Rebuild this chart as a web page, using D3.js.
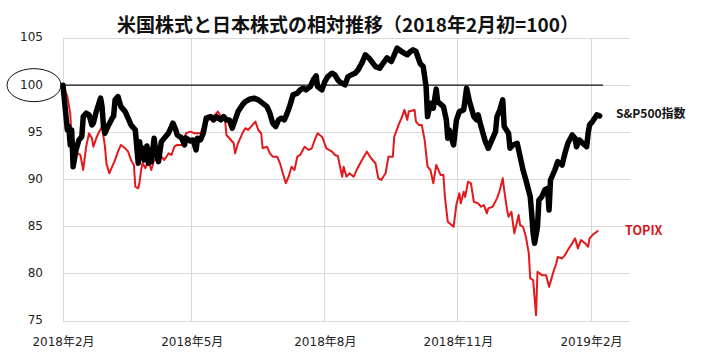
<!DOCTYPE html>
<html><head><meta charset="utf-8">
<script src="https://cdn.jsdelivr.net/npm/d3@7"></script>
<style>
html,body{margin:0;padding:0;background:#fff;}
svg{display:block;}
</style></head>
<body>
<svg id="chart" width="709" height="357"></svg>
<script>
const titleText = "米国株式と日本株式の相対推移（2018年2月初=100）";
const yTicks = [75, 80, 85, 90, 95, 100, 105];
const xTickDates = ["2018-02-01","2018-05-01","2018-08-01","2018-11-01","2019-02-01"];
const xTickLabels = ["2018年2月","2018年5月","2018年8月","2018年11月","2019年2月"];
const seriesNames = ["S&P500指数","TOPIX"];
const baseValue = 100;

const spxDates = ["2018-02-01","2018-02-04","2018-02-05","2018-02-06","2018-02-07","2018-02-08","2018-02-10","2018-02-12","2018-02-14","2018-02-15","2018-02-17","2018-02-19","2018-02-21","2018-02-22","2018-02-24","2018-02-27","2018-02-28","2018-03-01","2018-03-02","2018-03-04","2018-03-07","2018-03-08","2018-03-09","2018-03-11","2018-03-13","2018-03-16","2018-03-18","2018-03-20","2018-03-23","2018-03-24","2018-03-25","2018-03-26","2018-03-27","2018-03-28","2018-03-29","2018-03-31","2018-04-01","2018-04-02","2018-04-03","2018-04-05","2018-04-06","2018-04-08","2018-04-10","2018-04-12","2018-04-15","2018-04-17","2018-04-18","2018-04-20","2018-04-21","2018-04-24","2018-04-26","2018-04-27","2018-04-30","2018-05-02","2018-05-04","2018-05-05","2018-05-07","2018-05-09","2018-05-11","2018-05-14","2018-05-16","2018-05-18","2018-05-21","2018-05-23","2018-05-25","2018-05-27","2018-05-29","2018-05-31","2018-06-02","2018-06-05","2018-06-07","2018-06-10","2018-06-13","2018-06-16","2018-06-19","2018-06-22","2018-06-24","2018-06-26","2018-06-28","2018-06-30","2018-07-02","2018-07-04","2018-07-06","2018-07-08","2018-07-10","2018-07-13","2018-07-15","2018-07-17","2018-07-19","2018-07-22","2018-07-24","2018-07-26","2018-07-27","2018-07-30","2018-08-01","2018-08-03","2018-08-06","2018-08-08","2018-08-10","2018-08-11","2018-08-15","2018-08-17","2018-08-20","2018-08-22","2018-08-24","2018-08-27","2018-08-29","2018-09-01","2018-09-05","2018-09-08","2018-09-10","2018-09-13","2018-09-16","2018-09-20","2018-09-23","2018-09-27","2018-09-29","2018-10-01","2018-10-03","2018-10-06","2018-10-08","2018-10-10","2018-10-11","2018-10-13","2018-10-15","2018-10-17","2018-10-18","2018-10-22","2018-10-24","2018-10-25","2018-10-26","2018-10-29","2018-10-31","2018-11-02","2018-11-05","2018-11-07","2018-11-09","2018-11-12","2018-11-14","2018-11-15","2018-11-17","2018-11-20","2018-11-22","2018-11-24","2018-11-27","2018-11-28","2018-11-30","2018-12-02","2018-12-03","2018-12-06","2018-12-07","2018-12-09","2018-12-12","2018-12-14","2018-12-16","2018-12-18","2018-12-21","2018-12-22","2018-12-23","2018-12-24","2018-12-26","2018-12-27","2018-12-29","2018-12-31","2019-01-02","2019-01-03","2019-01-04","2019-01-07","2019-01-09","2019-01-12","2019-01-14","2019-01-16","2019-01-19","2019-01-21","2019-01-22","2019-01-24","2019-01-26","2019-01-29","2019-01-30","2019-01-31","2019-02-02","2019-02-05","2019-02-07"];
const spxValues = [100,95.25,95.61,93.66,95.25,91.36,93.13,94.19,94.54,96.67,97.03,96.85,95.79,95.97,97.20,98.62,97.73,95.61,94.90,95.61,96.50,96.74,98.44,98.79,97.73,97.20,96.50,95.79,95.25,93.48,91.72,94.01,92.42,93.34,92.07,93.56,91.72,93.13,91.89,94.37,93.13,91.89,94.01,94.37,94.94,95.61,95.97,95.25,94.72,94.41,93.66,94.41,94.09,94.19,93.13,94.37,94.19,94.90,96.50,96.67,96.32,96.67,96.32,96.67,96.32,96.32,95.44,96.32,97.20,97.91,98.26,98.51,98.62,98.44,98.09,97.73,97.03,95.97,95.61,96.32,96.50,96.32,97.03,97.91,98.97,99.15,99.50,99.68,99.50,99.85,100.56,100.99,99.85,99.50,100.38,100.91,101.27,101.09,100.56,100.38,100.03,100.91,101.15,101.27,101.62,102.47,103.22,102.79,101.97,101.80,102.26,102.90,102.51,103.93,103.57,103.22,103.54,103.75,103.57,102.26,101.97,99.85,96.67,98.09,97.56,99.58,98.26,97.73,96.32,94.37,95.25,93.66,96.32,97.20,97.38,99.68,98.26,96.67,96.32,96.85,95.61,94.01,93.31,94.01,95.07,96.67,97.38,98.44,95.61,94.90,93.31,93.66,93.84,92.42,91.01,89.95,88.17,86.41,84.29,83.23,84.99,87.82,88.17,88.89,89.07,86.76,89.95,91.01,91.89,91.54,92.78,93.84,94.72,94.37,93.48,94.19,93.88,93.48,94.90,95.79,96.14,96.85,96.74];

const topixDates = ["2018-02-01","2018-02-04","2018-02-06","2018-02-07","2018-02-09","2018-02-11","2018-02-13","2018-02-15","2018-02-17","2018-02-19","2018-02-21","2018-02-22","2018-02-24","2018-02-26","2018-02-28","2018-03-02","2018-03-03","2018-03-05","2018-03-07","2018-03-09","2018-03-11","2018-03-13","2018-03-16","2018-03-18","2018-03-20","2018-03-22","2018-03-23","2018-03-25","2018-03-26","2018-03-27","2018-03-28","2018-03-30","2018-04-01","2018-04-03","2018-04-05","2018-04-08","2018-04-10","2018-04-12","2018-04-15","2018-04-17","2018-04-19","2018-04-21","2018-04-25","2018-04-27","2018-04-30","2018-05-03","2018-05-07","2018-05-10","2018-05-14","2018-05-17","2018-05-19","2018-05-22","2018-05-24","2018-05-25","2018-05-27","2018-05-30","2018-05-31","2018-06-02","2018-06-05","2018-06-07","2018-06-09","2018-06-11","2018-06-14","2018-06-16","2018-06-18","2018-06-19","2018-06-22","2018-06-24","2018-06-26","2018-06-29","2018-07-01","2018-07-03","2018-07-05","2018-07-07","2018-07-09","2018-07-11","2018-07-13","2018-07-15","2018-07-18","2018-07-21","2018-07-23","2018-07-25","2018-07-27","2018-07-30","2018-07-31","2018-08-02","2018-08-06","2018-08-08","2018-08-10","2018-08-13","2018-08-14","2018-08-16","2018-08-18","2018-08-21","2018-08-23","2018-08-26","2018-08-30","2018-09-02","2018-09-05","2018-09-07","2018-09-09","2018-09-12","2018-09-14","2018-09-17","2018-09-18","2018-09-21","2018-09-23","2018-09-25","2018-09-27","2018-09-28","2018-10-02","2018-10-03","2018-10-05","2018-10-07","2018-10-09","2018-10-11","2018-10-13","2018-10-15","2018-10-17","2018-10-20","2018-10-22","2018-10-23","2018-10-25","2018-10-29","2018-10-31","2018-11-02","2018-11-03","2018-11-05","2018-11-06","2018-11-08","2018-11-10","2018-11-12","2018-11-15","2018-11-17","2018-11-19","2018-11-21","2018-11-22","2018-11-25","2018-11-28","2018-11-30","2018-12-02","2018-12-03","2018-12-05","2018-12-06","2018-12-08","2018-12-10","2018-12-13","2018-12-14","2018-12-16","2018-12-18","2018-12-20","2018-12-21","2018-12-23","2018-12-25","2018-12-26","2018-12-29","2019-01-01","2019-01-03","2019-01-06","2019-01-08","2019-01-09","2019-01-12","2019-01-14","2019-01-16","2019-01-19","2019-01-21","2019-01-23","2019-01-25","2019-01-28","2019-01-30","2019-01-31","2019-02-02","2019-02-05","2019-02-06"];
const topixValues = [100,98.79,97.03,94.19,92.78,92.78,92.60,91.01,93.48,94.90,94.37,93.48,94.37,95.07,95.61,93.48,91.72,90.66,91.36,92.07,92.95,93.66,93.31,92.95,92.07,91.54,89.24,89.07,89.77,91.01,91.75,91.19,92.07,91.01,92.07,92.07,92.42,92.07,92.78,92.60,93.48,93.66,93.66,94.90,95.07,94.90,94.90,95.97,96.50,96.85,97.20,96.50,96.32,94.72,94.37,93.84,92.78,93.84,94.90,95.44,95.25,95.61,96.14,95.25,94.90,93.31,93.48,92.78,92.42,92.42,91.72,90.66,89.60,90.30,91.36,91.01,92.42,92.60,93.48,93.13,93.31,94.19,94.90,94.54,94.19,93.31,92.95,92.60,92.49,90.30,91.36,90.30,90.66,90.30,91.01,91.89,92.95,92.25,91.72,90.13,89.95,90.66,92.42,92.42,94.54,95.79,96.50,97.38,96.32,97.20,97.38,96.14,95.79,95.79,94.19,91.36,91.01,89.60,91.54,90.48,90.48,88.17,85.52,84.99,87.40,88.53,87.47,88.70,88.14,89.77,89.60,87.64,87.47,87.11,87.29,86.41,86.94,87.11,88.00,88.89,90.13,88.89,86.76,86.05,86.58,84.29,86.23,85.17,84.99,83.93,82.17,79.51,79.33,75.61,80.21,79.86,79.86,78.62,80.21,81.10,81.80,81.63,81.98,82.52,83.23,83.76,82.70,83.58,83.23,82.87,83.76,84.11,84.46,84.59];

const svg = d3.select("#chart");
const parse = d3.timeParse("%Y-%m-%d");
const plot = {left: 63, right: 630, top: 38, bottom: 321};

const x = d3.scaleTime()
  .domain([parse("2018-02-01"), parse("2019-02-01")])
  .range([63, 591]);
const y = d3.scaleLinear().domain([75, 105]).range([plot.bottom, plot.top]);

const grid = "#d9d9d9";
svg.append("g").selectAll("line").data(yTicks).join("line")
  .attr("x1", plot.left).attr("x2", plot.right)
  .attr("y1", d => y(d)).attr("y2", d => y(d))
  .attr("stroke", grid).attr("stroke-width", 1).attr("shape-rendering","crispEdges");
svg.append("g").selectAll("line").data(xTickDates).join("line")
  .attr("x1", d => x(parse(d))).attr("x2", d => x(parse(d)))
  .attr("y1", plot.top).attr("y2", plot.bottom)
  .attr("stroke", grid).attr("stroke-width", 1).attr("shape-rendering","crispEdges");

const yAxis = d3.axisLeft(y).tickValues(yTicks).tickSize(0).tickPadding(0).tickFormat(d3.format("d"));
const ya = svg.append("g").attr("transform", "translate(43,-1)").call(yAxis);
ya.select(".domain").remove();
ya.selectAll("text").attr("font-family", "DejaVu Sans, sans-serif").attr("font-size", 12).attr("fill", "#222");

const xAxis = d3.axisBottom(x).tickValues(xTickDates.map(parse)).tickSize(0).tickPadding(0)
  .tickFormat((d, i) => xTickLabels[i]);
const xa = svg.append("g").attr("transform", "translate(0,337)").call(xAxis);
xa.select(".domain").remove();
xa.selectAll("text").attr("font-family", "DejaVu Sans, 'Noto Sans CJK JP', sans-serif").attr("font-size", 12).attr("fill", "#222");

svg.append("line")
  .attr("x1", plot.left).attr("x2", 603)
  .attr("y1", y(baseValue)).attr("y2", y(baseValue))
  .attr("stroke", "#111").attr("stroke-width", 1.3);

svg.append("ellipse")
  .attr("cx", 34).attr("cy", y(baseValue))
  .attr("rx", 27).attr("ry", 16.5)
  .attr("fill", "none").attr("stroke", "#111").attr("stroke-width", 1);

const line = d3.line().x(d => x(d[0])).y(d => y(d[1])).curve(d3.curveLinear);

const topixData = topixDates.map((d, i) => [parse(d), topixValues[i]]);
const spxData = spxDates.map((d, i) => [parse(d), spxValues[i]]);

svg.append("path").datum(topixData)
  .attr("d", line).attr("fill", "none")
  .attr("stroke", "#e3191c").attr("stroke-width", 2)
  .attr("stroke-linejoin", "round");

svg.append("path").datum(spxData)
  .attr("d", line).attr("fill", "none")
  .attr("stroke", "#000").attr("stroke-width", 5.5)
  .attr("stroke-linejoin", "round").attr("stroke-linecap", "round");

svg.append("text").attr("x", 616).attr("y", 112).attr("dominant-baseline", "central")
  .attr("font-family", "'Noto Sans CJK JP', sans-serif").attr("font-weight", "bold")
  .attr("font-size", 12).attr("fill", "#111").text(seriesNames[0]);
svg.append("text").attr("x", 625).attr("y", 229.5).attr("dominant-baseline", "central")
  .attr("font-family", "'Noto Sans CJK JP', sans-serif").attr("font-weight", "bold")
  .attr("font-size", 12.5).attr("fill", "#d6161b").text(seriesNames[1]);

svg.append("text").attr("x", 348).attr("y", 23).attr("text-anchor", "middle")
  .attr("dominant-baseline", "central")
  .attr("font-family", "'Noto Sans CJK JP', sans-serif").attr("font-weight", "bold")
  .attr("font-size", 19).attr("fill", "#111").text(titleText);
</script>
</body></html>
